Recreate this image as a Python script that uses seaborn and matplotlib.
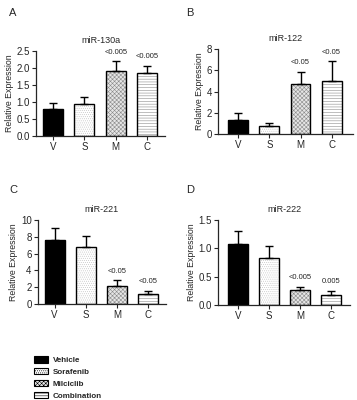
import pandas as pd
import seaborn as sns
import matplotlib.pyplot as plt
from matplotlib.patches import Patch, Rectangle

groups = ["V", "S", "M", "C"]
treatments = ["Vehicle", "Sorafenib", "Milciclib", "Combination"]

# mean and upper error (SD) for each miRNA
mir130a_mean = [0.78, 0.94, 1.90, 1.86]
mir130a_err = [0.19, 0.20, 0.30, 0.20]
mir130a_p = ["", "", "<0.005", "<0.005"]

mir122_mean = [1.30, 0.80, 4.75, 5.00]
mir122_err = [0.65, 0.25, 1.10, 1.85]
mir122_p = ["", "", "<0.05", "<0.05"]

mir221_mean = [7.60, 6.80, 2.10, 1.20]
mir221_err = [1.50, 1.30, 0.70, 0.40]
mir221_p = ["", "", "<0.05", "<0.05"]

mir222_mean = [1.08, 0.83, 0.26, 0.17]
mir222_err = [0.22, 0.21, 0.06, 0.08]
mir222_p = ["", "", "<0.005", "0.005"]

sns.set_style("ticks")
plt.rcParams['font.family'] = ['Liberation Sans', 'DejaVu Sans']
plt.rcParams['hatch.linewidth'] = 0.4

fills = ["black", "white", "#e6e6e6", "white"]
hatches = [None, "........", "xxxxxxxx", "------"]
hatch_cols = ["black", "#c4c4c4", "#8a8a8a", "#8c8c8c"]

panels = [
    ("A", "miR-130a", mir130a_mean, mir130a_err, mir130a_p, [0, 0.5, 1.0, 1.5, 2.0, 2.5], "{:.1f}",
     [0.101, 0.66, 0.361, 0.2125], (-0.54, 3.57), (0.025, 0.967)),
    ("B", "miR-122", mir122_mean, mir122_err, mir122_p, [0, 2, 4, 6, 8], "{:.0f}",
     [0.611, 0.665, 0.378, 0.2125], (-0.65, 3.69), (0.522, 0.967)),
    ("C", "miR-221", mir221_mean, mir221_err, mir221_p, [0, 2, 4, 6, 8, 10], "{:.0f}",
     [0.106, 0.24, 0.359, 0.21], (-0.54, 3.57), (0.025, 0.525)),
    ("D", "miR-222", mir222_mean, mir222_err, mir222_p, [0, 0.5, 1.0, 1.5], "{:.1f}",
     [0.611, 0.2375, 0.369, 0.2125], (-0.65, 3.6), (0.522, 0.525)),
]

fig = plt.figure(figsize=(3.57, 4.0), dpi=100)

for letter, title, mean, err, pvals, yticks, fmt, rect, xlim, lpos in panels:
    ax = fig.add_axes(rect)
    df = pd.DataFrame({"group": groups, "value": mean})
    sns.barplot(data=df, x="group", y="value", hue="group", palette=fills,
                width=0.64, errorbar=None, legend=False, ax=ax)
    for i, p in enumerate(ax.patches):
        p.set_edgecolor(hatch_cols[i])
        p.set_linewidth(0)
        if hatches[i]:
            p.set_hatch(hatches[i])
        ax.add_patch(Rectangle(p.get_xy(), p.get_width(), p.get_height(),
                               fill=False, edgecolor="black", linewidth=1.0, zorder=3))
    ax.errorbar(range(len(groups)), mean, yerr=[[0] * len(err), err], fmt="none",
                ecolor="black", elinewidth=1.0, capsize=3.2, capthick=1.0, zorder=4)
    for i, txt in enumerate(pvals):
        if txt:
            ax.annotate(txt, (i, mean[i] + err[i]), xytext=(0, 4), textcoords="offset points",
                        ha="center", va="bottom", fontsize=5.5)
    ax.set_xlim(*xlim)
    ax.set_ylim(0, yticks[-1])
    ax.set_yticks(yticks)
    ax.set_yticklabels([fmt.format(t) for t in yticks])
    ax.set_xlabel("")
    ax.set_ylabel("Relative Expression", fontsize=6.3, labelpad=2)
    ax.set_title(title, fontsize=6.5, pad=6)
    ax.tick_params(direction="out", length=3, width=0.8, labelsize=7, pad=1.5)
    sns.despine(ax=ax)
    for s in ["left", "bottom"]:
        ax.spines[s].set_linewidth(0.9)
    fig.text(lpos[0], lpos[1], letter, fontsize=8, ha="left", va="center")

handles = [Patch(facecolor=fills[i], edgecolor=hatch_cols[i], hatch=hatches[i], linewidth=0)
           for i in range(4)]
leg = fig.legend(handles, treatments, loc="lower left", bbox_to_anchor=(0.075, -0.018),
                 frameon=False, handlelength=1.7, handleheight=0.8,
                 labelspacing=0.5, handletextpad=0.6, prop={"weight": "bold", "size": 5.8})
for h in leg.legend_handles:
    h.set_edgecolor("black")
    h.set_linewidth(0.8)

fig.savefig("out.png", dpi=100)
